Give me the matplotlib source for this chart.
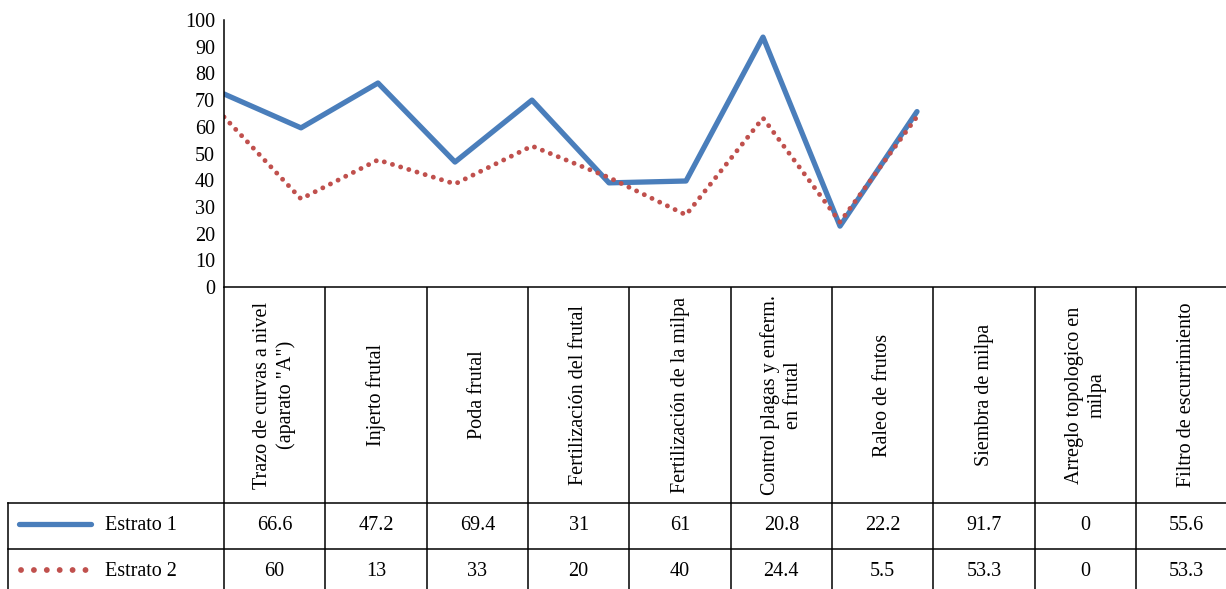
import matplotlib
matplotlib.use("Agg")
import matplotlib.pyplot as plt
import numpy as np

plt.rcParams['font.family'] = ['Liberation Serif', 'DejaVu Serif']

# ---------------- data ----------------
categories = [
    'Trazo de curvas a nivel\n(aparato "A")',
    'Injerto frutal',
    'Poda frutal',
    'Fertilización del frutal',
    'Fertilización de la milpa',
    'Control plagas y enferm.\nen frutal',
    'Raleo de frutos',
    'Siembra de milpa',
    'Arreglo topologico en\nmilpa',
    'Filtro de escurrimiento',
]
series_names = ['Estrato 1', 'Estrato 2']
# values as drawn by the lines
line_estrato1 = [72.3, 59.6, 76.4, 46.8, 70.0, 39.0, 39.7, 93.6, 22.8, 65.7]
line_estrato2 = [63.7, 33.0, 47.6, 38.6, 52.8, 41.0, 27.0, 63.3, 24.3, 63.8]
# values printed in the data table
table_estrato1 = ['66.6', '47.2', '69.4', '31', '61', '20.8', '22.2', '91.7', '0', '55.6']
table_estrato2 = ['60', '13', '33', '20', '40', '24.4', '5.5', '53.3', '0', '53.3']
yticks = list(range(0, 101, 10))

# ---------------- style ----------------
BLUE = '#4A7EBB'
RED = '#C0504D'
FS = 14.5
W, H = 1226, 589

fig = plt.figure(figsize=(W / 100, H / 100), dpi=100)

# table / overlay axes in pixel coordinates
tax = fig.add_axes([0, 0, 1, 1])
tax.set_xlim(0, W)
tax.set_ylim(H, 0)
tax.axis('off')

# line chart axes
ax_left, ax_top, ax_bottom, ax_right = 224, 20, 287, 1237
ax = fig.add_axes([ax_left / W, (H - ax_bottom) / H,
                   (ax_right - ax_left) / W, (ax_bottom - ax_top) / H])
ax.patch.set_alpha(0)

x = np.arange(len(categories))
ax.plot(x, line_estrato1, color=BLUE, lw=3.8,
        solid_joinstyle='round', solid_capstyle='round')
ax.plot(x, line_estrato2, color=RED, lw=3.5,
        linestyle=(0, (0.01, 1.75)), dash_capstyle='round')

ax.set_xlim(0, (ax_right - ax_left) / 77.0)
ax.set_ylim(0, 100)
ax.set_yticks(yticks)
ax.set_xticks([])
ax.tick_params(axis='y', length=0, pad=6.5, labelsize=FS)
for s in ['top', 'right']:
    ax.spines[s].set_visible(False)
for s in ['left', 'bottom']:
    ax.spines[s].set_color('black')
    ax.spines[s].set_linewidth(1.1)

# ---------------- data table ----------------
col_left = 224
col_w = (1136 - 224) / 9.0
hdr_top, row1_top, row2_top, row2_bot = 287, 503, 549, 595
leg_left = 8
lc = 'black'
lw_t = 1.1

for k in range(len(categories) + 1):
    xx = col_left + k * col_w
    tax.plot([xx, xx], [hdr_top, H], color=lc, lw=lw_t, solid_capstyle='butt')
tax.plot([leg_left, leg_left], [row1_top, H], color=lc, lw=lw_t)
for yy in (row1_top, row2_top):
    tax.plot([leg_left, W], [yy, yy], color=lc, lw=lw_t)

hdr_cy = (hdr_top + row1_top) / 2
r1_cy = (row1_top + row2_top) / 2
r2_cy = (row2_top + row2_bot) / 2

for k, cat in enumerate(categories):
    cx = col_left + (k + 0.5) * col_w
    tax.text(cx, hdr_cy, cat, rotation=90, ha='center', va='center',
             multialignment='center', linespacing=1.25, fontsize=FS)
    tax.text(cx, r1_cy, table_estrato1[k], ha='center', va='center', fontsize=FS)
    tax.text(cx, r2_cy, table_estrato2[k], ha='center', va='center', fontsize=FS)

# legend keys in the table
tax.plot([19, 91], [r1_cy - 2, r1_cy - 2], color=BLUE, lw=3.8, solid_capstyle='round')
tax.plot([21, 86], [r2_cy - 2, r2_cy - 2], color=RED, lw=4.2,
         linestyle=(0, (0.01, 2.2)), dash_capstyle='round')
tax.text(105, r1_cy, series_names[0], ha='left', va='center', fontsize=FS)
tax.text(105, r2_cy, series_names[1], ha='left', va='center', fontsize=FS)

fig.savefig('out.png', dpi=100)
